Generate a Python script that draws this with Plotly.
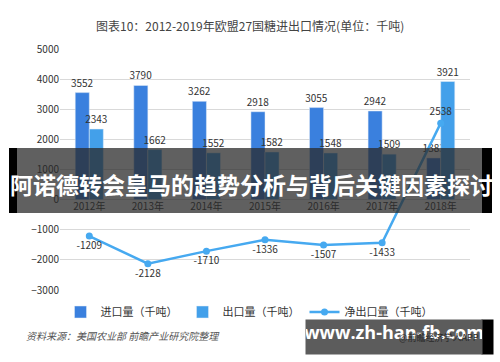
import plotly.graph_objects as go

years = ["2012年", "2013年", "2014年", "2015年", "2016年", "2017年", "2018年"]
imports = [3552, 3790, 3262, 2918, 3055, 2942, 1383]
exports = [2343, 1662, 1552, 1582, 1548, 1509, 3921]
net = [-1209, -2128, -1710, -1336, -1507, -1433, 2538]
net_pos = ["bottom center"] * 6 + ["top center"]

FONT = "Noto Sans CJK SC"
W, H = 500, 362
L, R, T, B = 60, 30, 49, 72
PW, PH = W - L - R, H - T - B

def px(x):
    return (x - L) / PW

def py(y):
    return (H - B - y) / PH

fig = go.Figure()
fig.add_trace(go.Bar(x=years, y=imports, name="进口量（千吨）", marker_color="#3a80de",
                     text=imports, textposition="outside", cliponaxis=False, constraintext="none",
                     textfont=dict(size=10, color="#333")))
fig.add_trace(go.Bar(x=years, y=exports, name="出口量（千吨）", marker_color="#43a0ea",
                     text=exports, textposition="outside", cliponaxis=False, constraintext="none",
                     textfont=dict(size=10, color="#333")))
fig.add_trace(go.Scatter(x=years, y=net, name="净出口量（千吨）", mode="lines+markers+text",
                         line=dict(color="#46a9f0", width=2.5), marker=dict(size=7, color="#46a9f0"),
                         text=net, textposition=net_pos, cliponaxis=False,
                         textfont=dict(size=10, color="#333")))

shapes = [
    dict(type="rect", xref="paper", yref="paper", x0=px(9), x1=px(492), y0=py(213), y1=py(148),
         fillcolor="rgba(40,40,40,0.74)", line_width=0, layer="above"),
    dict(type="rect", xref="paper", yref="paper", x0=px(9), x1=px(17), y0=py(213), y1=py(148),
         fillcolor="#000", line_width=0, layer="above"),
    dict(type="rect", xref="paper", yref="paper", x0=px(482), x1=px(492), y0=py(213), y1=py(148),
         fillcolor="#000", line_width=0, layer="above"),
]

annotations = [
    dict(text="图表10：2012-2019年欧盟27国糖进出口情况(单位：千吨)", xref="paper", yref="paper",
         x=px(250), y=py(15), showarrow=False, font=dict(size=12, color="#444", family=FONT)),
    dict(text="<b>阿诺德转会皇马的趋势分析与背后关键因素探讨</b>", xref="paper", yref="paper",
         x=px(251), y=py(184), showarrow=False, font=dict(size=23, color="#fff", family=FONT)),
    dict(text="<i>资料来源：美国农业部 前瞻产业研究院整理</i>", xref="paper", yref="paper",
         x=px(24), y=py(345), xanchor="left", showarrow=False, font=dict(size=10, color="#555", family=FONT)),
    # black strip on the right of the url box
    dict(text=" ", xref="paper", yref="paper", x=px(481), y=py(319), xanchor="left", yanchor="top",
         width=11, height=34, borderpad=0, bgcolor="#000", showarrow=False),
    # grey url box with url text
    dict(text="<b>www.zh-han-fb.com</b>", xref="paper", yref="paper",
         x=px(305), y=py(319), xanchor="left", yanchor="top", width=176, height=34, borderpad=0,
         align="center", valign="top", bgcolor="#5c5c5c", showarrow=False,
         font=dict(size=18, color="#fff", family="Open Sans")),
    dict(text="@前瞻经济学人APP", xref="paper", yref="paper",
         x=px(481), y=py(346), xanchor="right", showarrow=False, font=dict(size=9, color="#2a2a2a", family=FONT)),
]

fig.update_layout(
    width=W, height=H, margin=dict(l=L, r=R, t=T, b=B),
    paper_bgcolor="white", plot_bgcolor="white",
    font=dict(family=FONT, size=10, color="#333"),
    barmode="group", bargap=0.52, bargroupgap=0,
    showlegend=True,
    legend=dict(orientation="h", x=px(249), xanchor="center", y=py(312), yanchor="middle",
                font=dict(size=11, color="#333"), itemwidth=30, traceorder="normal",
                bgcolor="rgba(0,0,0,0)"),
    shapes=shapes, annotations=annotations,
)
fig.update_yaxes(range=[-3000, 5000], dtick=1000, showgrid=True, gridcolor="#d9d9d9",
                 zeroline=True, zerolinecolor="#d9d9d9", zerolinewidth=1, ticks="",
                 tickfont=dict(size=10, color="#333"), fixedrange=True)
fig.update_xaxes(anchor="free", position=py(199), showline=False, ticks="",
                 tickfont=dict(size=10, color="#333"))

fig.write_html("out.html")
